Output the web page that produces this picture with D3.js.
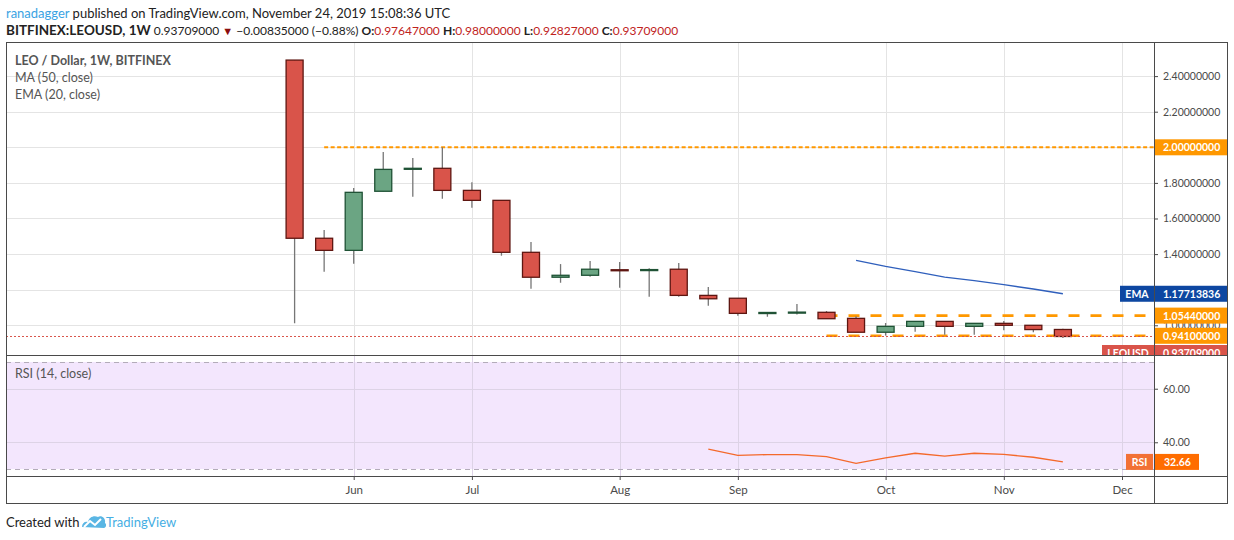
<!DOCTYPE html>
<html lang="en">
<head>
<meta charset="UTF-8">
<title>LEO / Dollar, 1W, BITFINEX</title>
<script src="https://d3js.org/d3.v7.min.js"></script>
<style>
  body { margin: 0; background: #fff; }
  svg { display: block; font-family: Lato, "Open Sans", sans-serif; }
</style>
</head>
<body>
<script>
// weekly candles, LEO/USD on Bitfinex
const weeks = ["2019-05-20", "2019-05-27", "2019-06-03", "2019-06-10", "2019-06-17", "2019-06-24",
  "2019-07-01", "2019-07-08", "2019-07-15", "2019-07-22", "2019-07-29", "2019-08-05", "2019-08-12",
  "2019-08-19", "2019-08-26", "2019-09-02", "2019-09-09", "2019-09-16", "2019-09-23", "2019-09-30",
  "2019-10-07", "2019-10-14", "2019-10-21", "2019-10-28", "2019-11-04", "2019-11-11", "2019-11-18"];
const open  = [2.49, 1.489, 1.421, 1.753, 1.877, 1.882, 1.758, 1.702, 1.41, 1.27, 1.281, 1.312, 1.308,
  1.315, 1.168, 1.152, 1.066, 1.071, 1.073, 1.039, 0.961, 0.994, 1.022, 0.994, 1.011, 1.0, 0.97647];
const high  = [2.49, 1.535, 1.771, 1.974, 1.94, 2.0, 1.803, 1.702, 1.468, 1.344, 1.361, 1.356, 1.32,
  1.35, 1.215, 1.152, 1.072, 1.12, 1.08, 1.051, 1.013, 1.022, 1.022, 1.011, 1.024, 1.0, 0.98];
const low   = [1.011, 1.301, 1.346, 1.753, 1.722, 1.711, 1.661, 1.391, 1.206, 1.239, 1.273, 1.211, 1.161,
  1.161, 1.11, 1.054, 1.048, 1.06, 1.037, 0.961, 0.942, 0.964, 0.947, 0.947, 0.972, 0.961, 0.92827];
const close = [1.489, 1.421, 1.747, 1.876, 1.882, 1.758, 1.702, 1.41, 1.27, 1.281, 1.315, 1.309, 1.313,
  1.168, 1.149, 1.067, 1.072, 1.074, 1.037, 0.961, 0.994, 1.022, 0.994, 1.011, 1.0, 0.976, 0.93709];

// EMA(20) starts on the 20th bar, RSI(14) on the 15th
const emaStart = 19;
const emaValues = [1.365, 1.331, 1.301, 1.271, 1.251, 1.228, 1.204, 1.17713836];
const rsiStart = 14;
const rsiValues = [37.4, 35.1, 35.4, 35.4, 34.6, 32.1, 34.2, 35.9, 34.8, 35.9, 35.5, 34.4, 32.66];

const priceTicks = [2.4, 2.2, 2.0, 1.8, 1.6, 1.4, 1.2, 1.0];
const hiddenPriceTicks = [1.2]; // covered by the EMA label on the chart
const rsiTicks = [60, 40];
const rsiBand = [70, 30];
const monthTicks = ["2019-06-03", "2019-07-01", "2019-08-05", "2019-09-02", "2019-10-07", "2019-11-04", "2019-12-02"];

// horizontal levels drawn by the author
const levelPrices = [2.0, 1.0544, 0.941];
const levelStarts = ["2019-05-27", "2019-09-23", "2019-09-23"];
const lastPrice = 0.93709;

const W = 1234, H = 540;
const paneL = 6, paneR = 1227, axisX = 1154;
const paneT = 42, priceB = 355, rsiB = 476, frameB = 503;

const parse = d3.utcParse("%Y-%m-%d");
const fmt8 = d3.format(".8f");

const svg = d3.select("body").append("svg")
  .attr("width", W)
  .attr("height", H);

const x = d3.scaleTime()
  .domain([parse("2019-05-20"), parse("2019-12-02")])
  .range([294.6, 1122]);
const y = d3.scaleLinear().domain([0.8331, 2.5916]).range([priceB, paneT]);
const yr = d3.scaleLinear().domain([27.4, 72.6]).range([rsiB, priceB]);

const bars = weeks.map((w, i) => ({
  date: parse(w), o: open[i], h: high[i], l: low[i], c: close[i]
}));

// ---- header
const head = svg.append("g").attr("font-size", 13).attr("fill", "#222");
const h1 = head.append("text").attr("x", 6).attr("y", 18);
h1.append("tspan").attr("fill", "#3aa3e3").text("ranadagger");
h1.append("tspan").text(" published on TradingView.com, November 24, 2019 15:08:36 UTC");

const h2 = head.append("text").attr("x", 6).attr("y", 35).attr("font-size", 12);
h2.append("tspan").attr("font-weight", "bold").attr("font-size", 13.5).text("BITFINEX:LEOUSD, 1W");
h2.append("tspan").text("  0.93709000 ");
h2.append("tspan").attr("fill", "#8b0d0d").attr("font-size", 11).text("▼");
h2.append("tspan").text(" −0.00835000 (−0.88%) ");
[["O:", "0.97647000"], ["H:", "0.98000000"], ["L:", "0.92827000"], ["C:", "0.93709000"]].forEach(p => {
  h2.append("tspan").attr("font-weight", "bold").text(p[0]);
  h2.append("tspan").attr("fill", "#c0221c").text(p[1] + " ");
});

// ---- clip paths
svg.append("clipPath").attr("id", "pricePane")
  .append("rect").attr("x", paneL).attr("y", paneT).attr("width", axisX - paneL).attr("height", priceB - paneT);
svg.append("clipPath").attr("id", "priceAll")
  .append("rect").attr("x", paneL).attr("y", paneT).attr("width", paneR - paneL).attr("height", priceB - paneT);

// ---- rsi pane background
svg.append("rect")
  .attr("x", paneL).attr("width", axisX - paneL)
  .attr("y", yr(rsiBand[0])).attr("height", yr(rsiBand[1]) - yr(rsiBand[0]))
  .attr("fill", "#f3e6fd");

// ---- grid
const grid = svg.append("g");
grid.selectAll(".hg").data(priceTicks).join("line")
  .attr("x1", paneL).attr("x2", axisX)
  .attr("y1", d => Math.round(y(d)) + 0.5).attr("y2", d => Math.round(y(d)) + 0.5)
  .attr("stroke", "#e4e4e4");
grid.selectAll(".vg").data(monthTicks).join("line")
  .attr("x1", d => Math.round(x(parse(d))) + 0.5).attr("x2", d => Math.round(x(parse(d))) + 0.5)
  .attr("y1", paneT).attr("y2", priceB)
  .attr("stroke", "#e4e4e4");
grid.selectAll(".vr").data(monthTicks).join("line")
  .attr("x1", d => Math.round(x(parse(d))) + 0.5).attr("x2", d => Math.round(x(parse(d))) + 0.5)
  .attr("y1", priceB).attr("y2", rsiB)
  .attr("stroke", "#ddd3e6");
grid.selectAll(".hr").data(rsiTicks).join("line")
  .attr("x1", paneL).attr("x2", axisX)
  .attr("y1", d => Math.round(yr(d)) + 0.5).attr("y2", d => Math.round(yr(d)) + 0.5)
  .attr("stroke", "#ddd3e6");
grid.selectAll(".band").data(rsiBand).join("line")
  .attr("x1", paneL).attr("x2", axisX)
  .attr("y1", d => Math.round(yr(d)) + 0.5).attr("y2", d => Math.round(yr(d)) + 0.5)
  .attr("stroke", "#b3acb9").attr("stroke-dasharray", "5,4");

// ---- price pane
const pane = svg.append("g").attr("clip-path", "url(#pricePane)");

pane.selectAll(".level").data(levelPrices).join("line")
  .attr("x1", (d, i) => x(parse(levelStarts[i]))).attr("x2", axisX)
  .attr("y1", d => y(d)).attr("y2", d => y(d))
  .attr("stroke", "#ff9800")
  .attr("stroke-width", (d, i) => i === 0 ? 2 : 2.6)
  .attr("stroke-dasharray", (d, i) => i === 0 ? "4,2.5" : "11,11");

const bw = 17;
const candle = pane.selectAll(".candle").data(bars).join("g");
candle.append("line")
  .attr("x1", d => x(d.date)).attr("x2", d => x(d.date))
  .attr("y1", d => y(d.h)).attr("y2", d => y(d.l))
  .attr("stroke", "#767676").attr("stroke-width", 1.3);
candle.append("rect")
  .attr("x", d => x(d.date) - bw / 2)
  .attr("width", bw)
  .attr("y", d => y(Math.max(d.o, d.c)))
  .attr("height", d => Math.max(1, Math.abs(y(d.o) - y(d.c))))
  .attr("fill", d => d.c >= d.o ? "#6ba583" : "#d9544a")
  .attr("stroke", d => d.c >= d.o ? "#1f5235" : "#5e1611")
  .attr("stroke-width", 1.3);

const ema = d3.line()
  .x((d, i) => x(bars[emaStart + i].date))
  .y(d => y(d));
pane.append("path").datum(emaValues)
  .attr("d", ema)
  .attr("fill", "none")
  .attr("stroke", "#2f5fbc")
  .attr("stroke-width", 1.3);

pane.append("line")
  .attr("x1", paneL).attr("x2", axisX)
  .attr("y1", y(lastPrice)).attr("y2", y(lastPrice))
  .attr("stroke", "#d9544a").attr("stroke-dasharray", "2,2");

// ---- rsi line
const rsiLine = d3.line()
  .x((d, i) => x(bars[rsiStart + i].date))
  .y(d => yr(d));
svg.append("path").datum(rsiValues)
  .attr("d", rsiLine)
  .attr("fill", "none")
  .attr("stroke", "#f4692b")
  .attr("stroke-width", 1.3);

// ---- pane legends
const leg = svg.append("g").attr("font-size", 12.5).attr("fill", "#555");
leg.append("text").attr("x", 15).attr("y", 65).attr("font-weight", "bold").text("LEO / Dollar, 1W, BITFINEX");
leg.append("text").attr("x", 15).attr("y", 82).text("MA (50, close)");
leg.append("text").attr("x", 15).attr("y", 99).text("EMA (20, close)");
leg.append("text").attr("x", 15).attr("y", 378).text("RSI (14, close)");

// ---- axes
const priceAxis = svg.append("g")
  .attr("transform", `translate(${axisX},0)`)
  .call(d3.axisRight(y).tickValues(priceTicks)
    .tickFormat(d => hiddenPriceTicks.includes(d) ? "" : fmt8(d))
    .tickSize(4).tickPadding(5));
const rsiAxis = svg.append("g")
  .attr("transform", `translate(${axisX},0)`)
  .call(d3.axisRight(yr).tickValues(rsiTicks).tickFormat(d3.format(".2f")).tickSize(4).tickPadding(5));
const timeAxis = svg.append("g")
  .attr("transform", `translate(0,${rsiB})`)
  .call(d3.axisBottom(x).tickValues(monthTicks.map(parse)).tickFormat(d3.utcFormat("%b")).tickSize(4).tickPadding(6));
[priceAxis, rsiAxis, timeAxis].forEach(a => {
  a.select(".domain").remove();
  a.selectAll("text").attr("font-family", "Lato, sans-serif").attr("font-size", 10.5).attr("fill", "#4a4a4a");
  a.selectAll("line").attr("stroke", "#4a4a4a");
});
timeAxis.selectAll("text").attr("font-size", 11.5);

// ---- axis labels (boxes)
function tag(g, x0, w, cy, fill, label, opts = {}) {
  g.append("rect").attr("x", x0).attr("y", cy - 8).attr("width", w).attr("height", 16).attr("fill", fill);
  g.append("text")
    .attr("x", opts.anchor === "middle" ? x0 + w / 2 : x0 + 9)
    .attr("y", cy + 4)
    .attr("text-anchor", opts.anchor || "start")
    .attr("font-size", 10.5)
    .attr("font-weight", "bold")
    .attr("fill", "#fff")
    .text(label);
}
const tags = svg.append("g");
levelPrices.forEach(p => tag(tags, axisX, paneR - axisX, y(p), "#ff9800", fmt8(p)));
const emaLast = emaValues[emaValues.length - 1];
tag(tags, 1120, axisX - 1120, y(emaLast), "#0d47a1", "EMA", { anchor: "middle" });
tag(tags, axisX, paneR - axisX, y(emaLast), "#0d47a1", fmt8(emaLast));
const lastTag = tags.append("g").attr("clip-path", "url(#priceAll)");
tag(lastTag, 1102, axisX - 1102, 353, "#d9544a", "LEOUSD", { anchor: "middle" });
tag(lastTag, axisX, paneR - axisX, 353, "#d9544a", fmt8(lastPrice));
const lastRsi = rsiValues[rsiValues.length - 1];
tag(tags, 1126, axisX - 1127, yr(lastRsi), "#f27135", "RSI", { anchor: "middle" });
tag(tags, axisX + 1, 44, yr(lastRsi), "#ff6d00", lastRsi.toFixed(2));

// ---- frame
const frame = svg.append("g").attr("fill", "none").attr("stroke", "#4a4a4a");
frame.append("rect").attr("x", paneL + 0.5).attr("y", paneT + 0.5)
  .attr("width", paneR - paneL).attr("height", frameB - paneT);
[priceB, rsiB].forEach(v => frame.append("line")
  .attr("x1", paneL).attr("x2", paneR).attr("y1", v + 0.5).attr("y2", v + 0.5));
frame.append("line").attr("x1", axisX + 0.5).attr("x2", axisX + 0.5).attr("y1", paneT).attr("y2", frameB);

// ---- footer
const foot = svg.append("g");
foot.append("text").attr("x", 6).attr("y", 527).attr("font-size", 13).attr("fill", "#222").text("Created with");
const logo = foot.append("g").attr("transform", "translate(82,514)");
logo.append("path")
  .attr("d", "M0,13 C0,9 3,7 6,8 C7,3 12,1 16,3 C19,1 24,4 23,9 C25,10 24,14 22,14 Z")
  .attr("fill", "#5ab6e4");
logo.append("path")
  .attr("d", "M2,13 L8,7 L13,11 L19,5")
  .attr("fill", "none").attr("stroke", "#fff").attr("stroke-width", 2);
foot.append("text").attr("x", 106).attr("y", 527).attr("font-size", 13).attr("fill", "#46aee3").text("TradingView");
</script>
</body>
</html>
